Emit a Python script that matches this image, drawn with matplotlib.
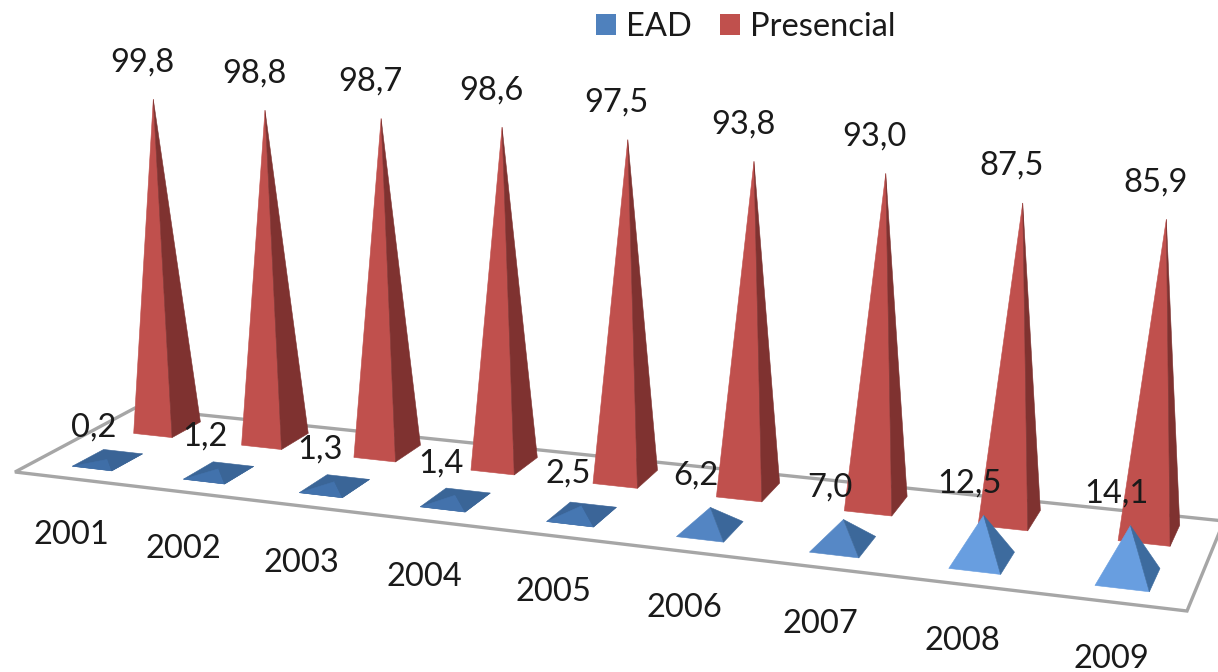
import matplotlib
matplotlib.use("Agg")
import matplotlib.pyplot as plt
from matplotlib.patches import Polygon, Patch
from matplotlib.colors import to_rgb
import numpy as np

years = ["2001", "2002", "2003", "2004", "2005", "2006", "2007", "2008", "2009"]
ead = [0.2, 1.2, 1.3, 1.4, 2.5, 6.2, 7.0, 12.5, 14.1]
presencial = [99.8, 98.8, 98.7, 98.6, 97.5, 93.8, 93.0, 87.5, 85.9]

floorCorners = [(15, 472), (1187, 611), (1224, 521), (135, 408)]


def floorMatrix():
	# floor runs 0-9 across and 0-2 deep
	src = [(0, 0), (9, 0), (9, 2), (0, 2)]
	a = []
	b = []
	for (x, y), (u, v) in zip(src, floorCorners):
		a.append([x, y, 1, 0, 0, 0, -u*x, -u*y])
		a.append([0, 0, 0, x, y, 1, -v*x, -v*y])
		b += [u, v]
	h = np.linalg.solve(np.array(a, dtype=float), np.array(b, dtype=float))
	return np.append(h, 1).reshape(3, 3)


H = floorMatrix()


def project(x, y, z=0):
	p = H @ np.array([x, y, 1.0])
	sx, sy = p[0]/p[2], p[1]/p[2]
	# the slots sit a bit to the right of a pure perspective
	shift = np.interp(sx, [0, 600, 1218], [6, 18, 6])
	sx += shift
	sy += 0.115*shift - 2
	# verticals lean outwards and get longer to the right
	lean = np.interp(sx, [167, 1148], [-0.14, 0.20])
	scale = np.interp(sx, [167, 1148], [3.29, 3.65])
	return sx + z*lean, sy - z*scale


def pyramid(ax, x, y, value, front, side, order):
	w, d = 0.18, 0.25
	left = project(x-w, y-d)
	near = project(x+w, y-d)
	right = project(x+w, y+d)
	back = project(x-w, y+d)
	top = project(x, y, value)
	# very low pyramids show their whole base
	if value < 3:
		ax.add_patch(Polygon([left, near, right, back], fc=side, ec=side, lw=0.4, zorder=order))
	ax.add_patch(Polygon([left, near, top], fc=front, ec=front, lw=0.4, zorder=order))
	ax.add_patch(Polygon([near, right, top], fc=side, ec=side, lw=0.4, zorder=order))
	return top


def blueShade(value):
	t = np.clip(value/12.5, 0, 1)
	front = np.array(to_rgb("#3E6DA6"))*(1-t) + np.array(to_rgb("#689EE0"))*t
	side = np.array(to_rgb("#3A6496"))*(1-t) + np.array(to_rgb("#3D6B9E"))*t
	return front, side


plt.rcParams['font.family'] = ['Lato', 'DejaVu Sans']
fig = plt.figure(figsize=(12.18, 6.72), dpi=100)
ax = fig.add_axes([0, 0, 1, 1])
ax.set_xlim(0, 1218)
ax.set_ylim(672, 0)
ax.axis('off')

ax.add_patch(Polygon(floorCorners, fc='white', ec='#A6A6A6', lw=2.4, zorder=1))

textColor = '#1a1a1a'
labelSize = 23.5
for i, year in enumerate(years):
	order = 2 + i
	top = pyramid(ax, i+0.5, 1.5, presencial[i], '#C0504D', '#7F3230', order)
	ax.text(top[0]-11, top[1]-37, f"{presencial[i]:.1f}".replace('.', ','), ha='center', va='center',
		fontsize=labelSize, color=textColor, zorder=20)
	front, side = blueShade(ead[i])
	top = pyramid(ax, i+0.5, 0.5, ead[i], front, side, order+0.5)
	ax.text(top[0]-14, top[1]-32, f"{ead[i]:.1f}".replace('.', ','), ha='center', va='center',
		fontsize=labelSize, color=textColor, zorder=20)
	px, py = project(i+0.5, 0)
	ax.text(px-5, py+58, year, ha='center', va='center', fontsize=labelSize, color=textColor, zorder=20)

handles = [Patch(fc='#4F81BD', label='EAD'), Patch(fc='#C0504D', label='Presencial')]
ax.legend(handles=handles, loc='center', bbox_to_anchor=(746, 27), bbox_transform=ax.transData,
	ncol=2, frameon=False, fontsize=labelSize, handlelength=0.6, handleheight=0.6, handletextpad=0.33,
	columnspacing=0.85, borderpad=0, labelcolor=textColor)

plt.savefig('out.png', dpi=100)
